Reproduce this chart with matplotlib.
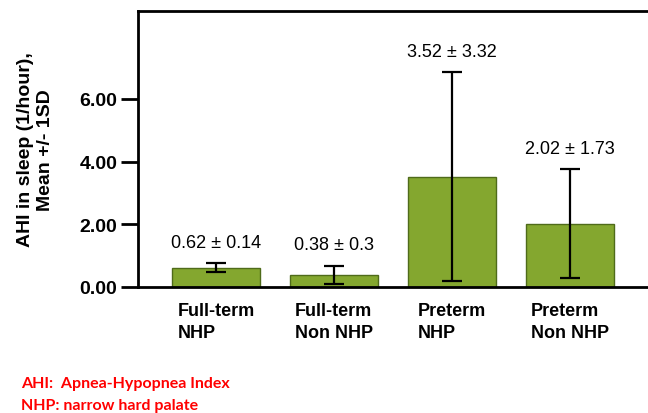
import numpy as np
import matplotlib.pyplot as plt

# ---------- data ----------
groups = ["Full-term\nNHP", "Full-term\nNon NHP", "Preterm\nNHP", "Preterm\nNon NHP"]
means = [0.62, 0.38, 3.52, 2.02]
sds = [0.14, 0.30, 3.32, 1.73]
yticks = [0.0, 2.0, 4.0, 6.0]
notes = ["AHI:  Apnea-Hypopnea Index", "NHP: narrow hard palate"]

BAR = "#84a72f"
EDGE = "#4f6b1a"

plt.rcParams["font.family"] = ["Liberation Sans", "DejaVu Sans"]

fig = plt.figure(figsize=(6.48, 4.14), dpi=100)
ax = fig.add_axes([138 / 648, 126 / 414, 510 / 648, 276 / 414])

x = np.arange(len(groups))
ax.bar(x, means, width=0.75, color=BAR, edgecolor=EDGE, linewidth=1, zorder=2)
ax.errorbar(x, means, yerr=sds, fmt="none", ecolor="black", elinewidth=1.6,
            capsize=7.5, capthick=1.6, zorder=3)

for xi, m, s in zip(x, means, sds):
    ax.annotate(f"{m:g} \u00b1 {s:g}", (xi, m + s), xytext=(0, 9),
                textcoords="offset points", ha="center", va="bottom", fontsize=13)

ax.set_xlim(-0.66, 3.66)
ax.set_ylim(0, 8.8)
ax.set_yticks(yticks)
ax.set_yticklabels([f"{t:.2f}" for t in yticks], fontweight="bold", fontsize=14)
ax.tick_params(axis="y", direction="out", length=12, width=2, pad=3)
ax.set_xticks(x)
ax.set_xticklabels(groups, fontweight="bold", fontsize=13, multialignment="left",
                   linespacing=1.35)
ax.tick_params(axis="x", length=0, pad=11)

for side in ["left", "top", "bottom"]:
    ax.spines[side].set_linewidth(2)
ax.spines["right"].set_visible(False)

ax.set_ylabel("AHI in sleep (1/hour),\nMean +/- 1SD", fontweight="bold", fontsize=14,
              linespacing=1.25, labelpad=18)

for i, t in enumerate(notes):
    fig.text(21 / 648, 1 - (384 + 22 * i) / 414, t, color="red", fontsize=11.5,
             fontweight="bold", family=["Lato", "DejaVu Sans"], va="center")

fig.savefig("out.png", dpi=100)
